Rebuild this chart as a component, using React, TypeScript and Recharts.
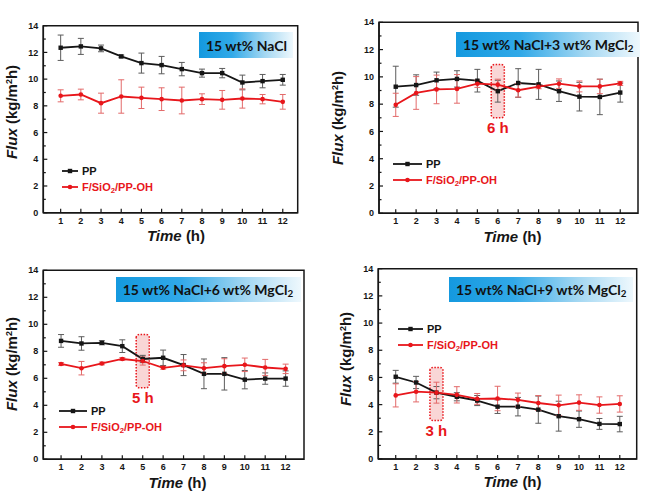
import React from 'react';
import { LineChart, Line, XAxis, YAxis, ErrorBar, ReferenceArea } from 'recharts';

// Flux vs time for PP and F/SiO2/PP-OH membranes in four brines

const hours = [1, 2, 3, 4, 5, 6, 7, 8, 9, 10, 11, 12];
const yTicks = [0, 1, 2, 3, 4, 5, 6, 7, 8, 9, 10, 11, 12, 13, 14];

const nacl15PP = [12.35, 12.45, 12.3, 11.7, 11.2, 11.05, 10.75, 10.45, 10.45, 9.75, 9.85, 9.95];
const nacl15PPErr = [0.95, 0.6, 0.25, 0.1, 0.75, 0.65, 0.5, 0.3, 0.35, 0.55, 0.5, 0.4];
const nacl15F = [8.75, 8.85, 8.2, 8.7, 8.6, 8.5, 8.4, 8.5, 8.45, 8.55, 8.5, 8.3];
const nacl15FErr = [0.45, 0.4, 0.75, 1.25, 0.8, 0.85, 1.0, 0.4, 0.7, 0.72, 0.35, 0.55];

const mg3PP = [9.28, 9.4, 9.75, 9.85, 9.72, 8.95, 9.55, 9.45, 8.95, 8.55, 8.53, 8.85];
const mg3PPErr = [1.5, 0.75, 0.6, 0.6, 0.83, 0.8, 1.05, 1.1, 0.75, 1.05, 1.3, 0.7];
const mg3F = [7.95, 8.82, 9.08, 9.12, 9.5, 9.43, 9.02, 9.28, 9.5, 9.3, 9.3, 9.52];
const mg3FErr = [0.85, 1.2, 1.05, 1.05, 0.27, 0.4, 0.5, 0.15, 0.35, 0.4, 0.53, 0.15];

const mg6PP = [8.77, 8.58, 8.63, 8.38, 7.43, 7.52, 6.98, 6.33, 6.33, 5.9, 5.98, 5.98];
const mg6PPErr = [0.47, 0.5, 0.15, 0.47, 0.27, 0.57, 0.78, 1.1, 1.2, 0.68, 0.42, 0.57];
const mg6F = [7.06, 6.75, 7.1, 7.43, 7.28, 6.78, 6.96, 6.75, 6.9, 7.0, 6.8, 6.7];
const mg6FErr = [0.1, 0.5, 0.1, 0.1, 0.3, 0.1, 0.4, 0.4, 0.55, 0.5, 0.6, 0.35];

const mg9PP = [6.05, 5.63, 4.88, 4.58, 4.3, 3.85, 3.85, 3.63, 3.15, 2.93, 2.58, 2.57];
const mg9PPErr = [0.47, 0.45, 0.45, 0.3, 0.37, 0.5, 0.68, 1.0, 1.1, 0.6, 0.4, 0.57];
const mg9F = [4.68, 4.95, 4.88, 4.72, 4.42, 4.45, 4.35, 4.12, 3.95, 4.15, 3.97, 4.05];
const mg9FErr = [0.85, 0.75, 0.77, 0.6, 0.4, 0.9, 0.5, 0.55, 0.75, 0.57, 0.6, 0.6];

// highlighted hour where the two curves cross: hour, low flux, high flux
const mg3Mark = { hour: 6, low: 7.0, high: 10.9, label: '6 h' };
const mg6Mark = { hour: 5, low: 5.3, high: 9.25, label: '5 h' };
const mg9Mark = { hour: 3, low: 2.83, high: 6.74, label: '3 h' };

const FONT = '"Liberation Sans", Arial, sans-serif';
const TITLE_FONT = 'Lato, "Open Sans", sans-serif';
const BLACK = '#161616';
const RED = '#e8161b';
const W = 325;
const H = 247;

function buildRows(pp: number[], ppErr: number[], f: number[], fErr: number[]) {
  return hours.map((h, i) => ({ hour: h, pp: pp[i], ppErr: ppErr[i], f: f[i], fErr: fErr[i] }));
}

const YTick = (props: any) => {
  const { x, y, payload } = props;
  const v = payload.value;
  const major = v % 2 === 0;
  return (
    <g>
      <line x1={x} x2={x + (major ? 4 : 2.5)} y1={y} y2={y} stroke={BLACK} strokeWidth={1.2} />
      {major && (
        <text x={x - 5} y={y} dy="0.35em" textAnchor="end" fontSize={9} fontWeight="bold" fontFamily={FONT} fill={BLACK}>
          {v}
        </text>
      )}
    </g>
  );
};

const XTick = (props: any) => {
  const { x, y, payload } = props;
  return (
    <g>
      <line x1={x} x2={x} y1={y} y2={y - 4} stroke={BLACK} strokeWidth={1.2} />
      <text x={x} y={y + 8} dy="0.35em" textAnchor="middle" fontSize={9} fontWeight="bold" fontFamily={FONT} fill={BLACK}>
        {payload.value}
      </text>
    </g>
  );
};

const SquareDot = (props: any) => {
  const { cx, cy, index } = props;
  if (cx == null || cy == null) return <g key={`sq-${index}`} />;
  return <rect key={`sq-${index}`} x={cx - 2.2} y={cy - 2.2} width={4.4} height={4.4} fill={BLACK} />;
};

function Sub2() {
  return <sub style={{ fontSize: '0.7em', verticalAlign: '-0.25em', lineHeight: 0 }}>2</sub>;
}

interface PanelProps {
  left: number;
  top: number;
  rows: ReturnType<typeof buildRows>;
  title: React.ReactNode;
  plot: { left: number; right: number; top: number; bottom: number };
  xDomain: [number, number];
  box: { x: number; y: number; w: number; h: number };
  yTitle: { x: number; y: number };
  xTitle: { x: number; y: number };
  legend: { x: number; y: number; len: number };
  mark?: { hour: number; low: number; high: number; label: string };
}

function LegendRow({ y, x, len, color, square, children }: any) {
  return (
    <div
      style={{
        position: 'absolute',
        left: x,
        top: y - 8,
        height: 16,
        display: 'flex',
        alignItems: 'center',
        whiteSpace: 'nowrap',
        fontFamily: FONT,
        fontWeight: 'bold',
        fontSize: 11,
        color,
      }}
    >
      <svg width={len} height={8} style={{ marginRight: 4 }}>
        <line x1={0} x2={len} y1={4} y2={4} stroke={color} strokeWidth={1.8} />
        {square ? (
          <rect x={len / 2 - 2.2} y={1.8} width={4.4} height={4.4} fill={color} />
        ) : (
          <circle cx={len / 2} cy={4} r={2.3} fill={color} />
        )}
      </svg>
      <span>{children}</span>
    </div>
  );
}

function Panel(p: PanelProps) {
  const yAxisW = 30;
  const xAxisH = 30;
  return (
    <div style={{ position: 'absolute', left: p.left, top: p.top, width: W, height: H }}>
      <LineChart
        width={W}
        height={H}
        data={p.rows}
        margin={{
          top: p.plot.top,
          right: W - p.plot.right,
          left: p.plot.left - yAxisW,
          bottom: H - p.plot.bottom - xAxisH,
        }}
      >
        <XAxis
          dataKey="hour"
          type="number"
          domain={p.xDomain}
          ticks={hours}
          interval={0}
          height={xAxisH}
          allowDataOverflow
          tickSize={0}
          tickMargin={0}
          tickLine={false}
          tick={(t: any) => <XTick {...t} />}
          axisLine={{ stroke: BLACK, strokeWidth: 1.5 }}
        />
        <YAxis
          type="number"
          domain={[0, 14]}
          ticks={yTicks}
          interval={0}
          width={yAxisW}
          allowDataOverflow
          tickSize={0}
          tickMargin={0}
          tickLine={false}
          tick={(t: any) => <YTick {...t} />}
          axisLine={{ stroke: BLACK, strokeWidth: 1.5 }}
        />
        <ReferenceArea
          x1={p.xDomain[0]}
          x2={p.xDomain[1]}
          y1={0}
          y2={14}
          fill="none"
          stroke={BLACK}
          strokeWidth={1.5}
          ifOverflow="visible"
        />
        <Line
          dataKey="pp"
          stroke={BLACK}
          strokeWidth={1.8}
          dot={SquareDot}
          activeDot={false}
          isAnimationActive={false}
        >
          <ErrorBar dataKey="ppErr" width={3} stroke="#5c5c5c" strokeWidth={1} isAnimationActive={false} />
        </Line>
        <Line
          dataKey="f"
          stroke={RED}
          strokeWidth={1.8}
          dot={{ r: 2.3, fill: RED, stroke: RED, strokeWidth: 0 }}
          activeDot={false}
          isAnimationActive={false}
        >
          <ErrorBar dataKey="fErr" width={3} stroke="#e36a6a" strokeWidth={1} isAnimationActive={false} />
        </Line>
        {p.mark && (
          <ReferenceArea
            x1={p.mark.hour - 0.32}
            x2={p.mark.hour + 0.32}
            y1={p.mark.low}
            y2={p.mark.high}
            fill="#f2a3a3"
            fillOpacity={0.45}
            stroke={RED}
            strokeWidth={1.5}
            strokeDasharray="1.5 1.5"
            radius={3}
            label={{
              value: p.mark.label,
              position: 'bottom',
              offset: 5,
              fill: RED,
              fontSize: 15,
              fontWeight: 'bold',
              fontFamily: FONT,
            }}
          />
        )}
      </LineChart>

      <div
        style={{
          position: 'absolute',
          left: p.box.x,
          top: p.box.y,
          width: p.box.w,
          height: p.box.h,
          background: 'linear-gradient(to right, #1499df 0%, #31a9e8 35%, #a3d7f2 70%, #eef8fd 100%)',
          display: 'flex',
          alignItems: 'center',
          paddingLeft: 7,
          boxSizing: 'border-box',
          fontFamily: TITLE_FONT,
          fontWeight: 'bold',
          fontSize: 14,
          color: '#111',
          whiteSpace: 'nowrap',
        }}
      >
        {p.title}
      </div>

      <div
        style={{
          position: 'absolute',
          left: p.yTitle.x,
          top: p.yTitle.y,
          transform: 'translate(-50%, -50%) rotate(-90deg)',
          fontFamily: FONT,
          fontWeight: 'bold',
          fontSize: 15,
          color: BLACK,
          whiteSpace: 'nowrap',
          lineHeight: 1,
        }}
      >
        <i>Flux</i> (kg/m<sup style={{ fontSize: 9, verticalAlign: '0.55em', lineHeight: 0 }}>2</sup>h)
      </div>

      <div
        style={{
          position: 'absolute',
          left: p.xTitle.x,
          top: p.xTitle.y,
          transform: 'translate(-50%, -50%)',
          fontFamily: FONT,
          fontWeight: 'bold',
          fontSize: 15,
          color: BLACK,
          whiteSpace: 'nowrap',
          lineHeight: 1,
        }}
      >
        <i>Time</i> (h)
      </div>

      <LegendRow x={p.legend.x} y={p.legend.y} len={p.legend.len} color={BLACK} square>
        PP
      </LegendRow>
      <LegendRow x={p.legend.x} y={p.legend.y + 16.5} len={p.legend.len} color={RED}>
        F/SiO<Sub2 />/PP-OH
      </LegendRow>
    </div>
  );
}

export default function App() {
  return (
    <div style={{ position: 'absolute', left: 0, top: 0, width: 650, height: 494, background: '#fff' }}>
      <Panel
        left={0}
        top={0}
        rows={buildRows(nacl15PP, nacl15PPErr, nacl15F, nacl15FErr)}
        title={<span>15 wt% NaCl</span>}
        plot={{ left: 43.3, right: 297.7, top: 25.7, bottom: 212.7 }}
        xDomain={[0.14, 12.74]}
        box={{ x: 199, y: 32, w: 94, h: 26 }}
        yTitle={{ x: 11, y: 112 }}
        xTitle={{ x: 176, y: 234.5 }}
        legend={{ x: 62, y: 170.7, len: 16 }}
      />
      <Panel
        left={325}
        top={0}
        rows={buildRows(mg3PP, mg3PPErr, mg3F, mg3FErr)}
        title={<span>15 wt% NaCl+3 wt% MgCl<Sub2 /></span>}
        plot={{ left: 54, right: 313, top: 22.3, bottom: 213.3 }}
        xDomain={[0.18, 12.87]}
        box={{ x: 131, y: 32.3, w: 184, h: 24.4 }}
        yTitle={{ x: 11.5, y: 118 }}
        xTitle={{ x: 187.5, y: 236 }}
        legend={{ x: 68, y: 163.7, len: 29 }}
        mark={mg3Mark}
      />
      <Panel
        left={0}
        top={247}
        rows={buildRows(mg6PP, mg6PPErr, mg6F, mg6FErr)}
        title={<span>15 wt% NaCl+6 wt% MgCl<Sub2 /></span>}
        plot={{ left: 43.3, right: 304, top: 23.3, bottom: 212.3 }}
        xDomain={[0.13, 12.9]}
        box={{ x: 115.7, y: 30, w: 185, h: 25 }}
        yTitle={{ x: 11, y: 117 }}
        xTitle={{ x: 177.5, y: 235 }}
        legend={{ x: 59, y: 163.7, len: 28 }}
        mark={mg6Mark}
      />
      <Panel
        left={325}
        top={247}
        rows={buildRows(mg9PP, mg9PPErr, mg9F, mg9FErr)}
        title={<span>15 wt% NaCl+9 wt% MgCl<Sub2 /></span>}
        plot={{ left: 53.3, right: 311.7, top: 21.7, bottom: 212 }}
        xDomain={[0.145, 12.83]}
        box={{ x: 124, y: 30, w: 184, h: 25 }}
        yTitle={{ x: 19.5, y: 112 }}
        xTitle={{ x: 187.5, y: 234 }}
        legend={{ x: 73, y: 81.7, len: 25 }}
        mark={mg9Mark}
      />
    </div>
  );
}
